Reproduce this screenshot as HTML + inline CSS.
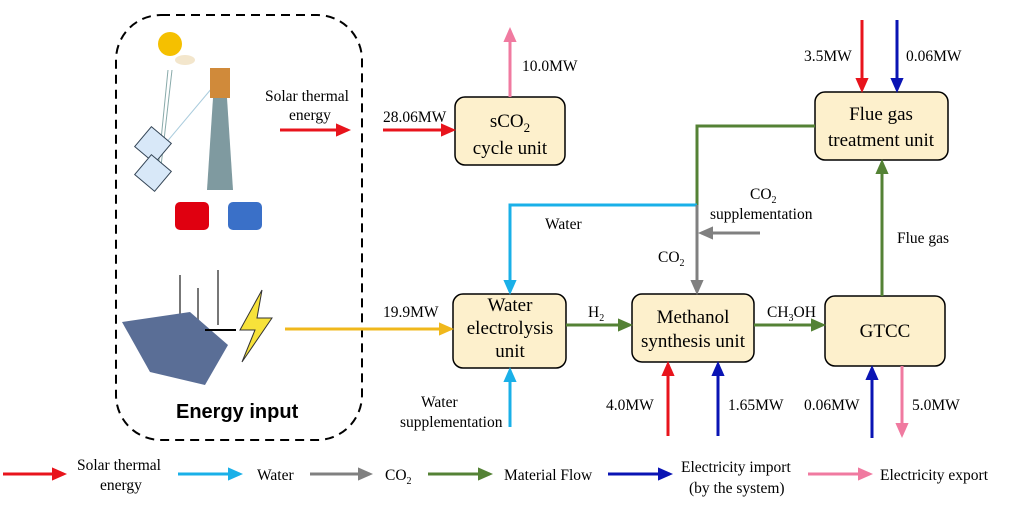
<!DOCTYPE html>
<html><head><meta charset="utf-8"><style>
body{margin:0;background:#fff}
svg{display:block;font-family:"Liberation Serif",serif}
</style></head><body>
<svg width="1009" height="511" viewBox="0 0 1009 511" xmlns="http://www.w3.org/2000/svg">
<defs>
<marker id="ar" markerWidth="5" markerHeight="5" refX="4" refY="2.5" orient="auto" markerUnits="strokeWidth"><path d="M0,0.3 L5,2.5 L0,4.7z" fill="context-stroke"/></marker>
</defs>
<rect x="116" y="15" width="246" height="425" rx="45" fill="none" stroke="#000" stroke-width="2" stroke-dasharray="9,6"/>
<circle cx="170" cy="44" r="12" fill="#f5c000"/>
<ellipse cx="185" cy="60" rx="10" ry="5" fill="#f3e6cc"/>
<line x1="168" y1="70" x2="158" y2="170" stroke="#8aa" stroke-width="1"/>
<line x1="172" y1="70" x2="160" y2="175" stroke="#8aa" stroke-width="1"/>
<line x1="212" y1="88" x2="160" y2="150" stroke="#acd" stroke-width="1"/>
<rect x="140" y="132" width="26" height="26" fill="#d8e8f8" stroke="#345" transform="rotate(40 153 145)"/>
<rect x="140" y="160" width="26" height="26" fill="#d8e8f8" stroke="#345" transform="rotate(40 153 173)"/>
<rect x="210" y="68" width="20" height="30" fill="#d08a3a"/>
<polygon points="213,98 227,98 233,190 207,190" fill="#7f9aa0"/>
<rect x="175" y="202" width="34" height="28" rx="5" fill="#e00010"/>
<rect x="228" y="202" width="34" height="28" rx="5" fill="#3a70c8"/>
<g stroke="#777" stroke-width="2"><line x1="180" y1="275" x2="180" y2="325"/><line x1="198" y1="288" x2="198" y2="325"/><line x1="218" y1="270" x2="218" y2="325"/></g>
<polygon points="122,322 190,312 228,345 205,385 150,372" fill="#5a6e96"/>
<line x1="205" y1="330" x2="236" y2="330" stroke="#000" stroke-width="2"/>
<polygon points="262,290 240,330 255,330 242,362 272,318 257,318" fill="#f7e23a" stroke="#333"/>
<text x="176" y="418" font-family="Liberation Sans,sans-serif" font-weight="bold" font-size="20">Energy input</text>
<g fill="#fdf0cc" stroke="#000" stroke-width="1.5">
<rect x="455" y="97" width="110" height="68" rx="10"/>
<rect x="815" y="92" width="133" height="68" rx="10"/>
<rect x="453" y="294" width="113" height="74" rx="10"/>
<rect x="632" y="294" width="122" height="68" rx="10"/>
<rect x="825" y="296" width="120" height="70" rx="10"/>
</g>
<g font-size="19" text-anchor="middle">
<text x="510" y="127">sCO<tspan font-size="13" dy="5">2</tspan></text>
<text x="510" y="154">cycle unit</text>
<text x="881" y="120">Flue gas</text>
<text x="881" y="146">treatment unit</text>
<text x="510" y="311">Water</text>
<text x="510" y="334">electrolysis</text>
<text x="510" y="357">unit</text>
<text x="693" y="323">Methanol</text>
<text x="693" y="347">synthesis unit</text>
<text x="885" y="337">GTCC</text>
</g>
<g fill="none" stroke-width="3">
<line x1="280" y1="130" x2="348" y2="130" stroke="#e8141c" marker-end="url(#ar)"/>
<line x1="383" y1="130" x2="453" y2="130" stroke="#e8141c" marker-end="url(#ar)"/>
<line x1="510" y1="97" x2="510" y2="30" stroke="#f07aa0" marker-end="url(#ar)"/>
<line x1="862" y1="20" x2="862" y2="90" stroke="#e8141c" marker-end="url(#ar)"/>
<line x1="897" y1="20" x2="897" y2="90" stroke="#0a14b4" marker-end="url(#ar)"/>
<polyline points="815,126 697,126 697,205" stroke="#548235"/>
<polyline points="697,205 510,205 510,292" stroke="#1ab0e8" marker-end="url(#ar)"/>
<line x1="697" y1="205" x2="697" y2="292" stroke="#808080" marker-end="url(#ar)"/>
<line x1="760" y1="233" x2="701" y2="233" stroke="#808080" marker-end="url(#ar)"/>
<line x1="882" y1="296" x2="882" y2="162" stroke="#548235" marker-end="url(#ar)"/>
<line x1="285" y1="329" x2="451" y2="329" stroke="#f0b81c" marker-end="url(#ar)"/>
<line x1="566" y1="325" x2="630" y2="325" stroke="#548235" marker-end="url(#ar)"/>
<line x1="754" y1="325" x2="823" y2="325" stroke="#548235" marker-end="url(#ar)"/>
<line x1="510" y1="427" x2="510" y2="370" stroke="#1ab0e8" marker-end="url(#ar)"/>
<line x1="668" y1="436" x2="668" y2="364" stroke="#e8141c" marker-end="url(#ar)"/>
<line x1="718" y1="436" x2="718" y2="364" stroke="#0a14b4" marker-end="url(#ar)"/>
<line x1="872" y1="438" x2="872" y2="368" stroke="#0a14b4" marker-end="url(#ar)"/>
<line x1="902" y1="366" x2="902" y2="435" stroke="#f07aa0" marker-end="url(#ar)"/>
<line x1="3" y1="474" x2="64" y2="474" stroke="#e8141c" marker-end="url(#ar)"/>
<line x1="178" y1="474" x2="240" y2="474" stroke="#1ab0e8" marker-end="url(#ar)"/>
<line x1="310" y1="474" x2="370" y2="474" stroke="#808080" marker-end="url(#ar)"/>
<line x1="428" y1="474" x2="490" y2="474" stroke="#548235" marker-end="url(#ar)"/>
<line x1="608" y1="474" x2="670" y2="474" stroke="#0a14b4" marker-end="url(#ar)"/>
<line x1="808" y1="474" x2="870" y2="474" stroke="#f07aa0" marker-end="url(#ar)"/>
</g>
<g font-size="15.5">
<text x="265" y="101">Solar thermal</text>
<text x="289" y="120">energy</text>
<text x="383" y="122">28.06MW</text>
<text x="522" y="71">10.0MW</text>
<text x="804" y="61">3.5MW</text>
<text x="906" y="61">0.06MW</text>
<text x="750" y="199">CO<tspan font-size="10" dy="4">2</tspan></text>
<text x="710" y="219">supplementation</text>
<text x="545" y="229">Water</text>
<text x="658" y="262">CO<tspan font-size="10" dy="4">2</tspan></text>
<text x="897" y="243">Flue gas</text>
<text x="383" y="317">19.9MW</text>
<text x="588" y="317">H<tspan font-size="10" dy="4">2</tspan></text>
<text x="767" y="317">CH<tspan font-size="10" dy="4">3</tspan><tspan dy="-4">OH</tspan></text>
<text x="421" y="407">Water</text>
<text x="400" y="427">supplementation</text>
<text x="606" y="410">4.0MW</text>
<text x="728" y="410">1.65MW</text>
<text x="804" y="410">0.06MW</text>
<text x="912" y="410">5.0MW</text>
<text x="77" y="470">Solar thermal</text>
<text x="100" y="490">energy</text>
<text x="257" y="480">Water</text>
<text x="385" y="480">CO<tspan font-size="10" dy="4">2</tspan></text>
<text x="504" y="480">Material Flow</text>
<text x="681" y="472">Electricity import</text>
<text x="689" y="493">(by the system)</text>
<text x="880" y="480">Electricity export</text>
</g>
</svg>
</body></html>
